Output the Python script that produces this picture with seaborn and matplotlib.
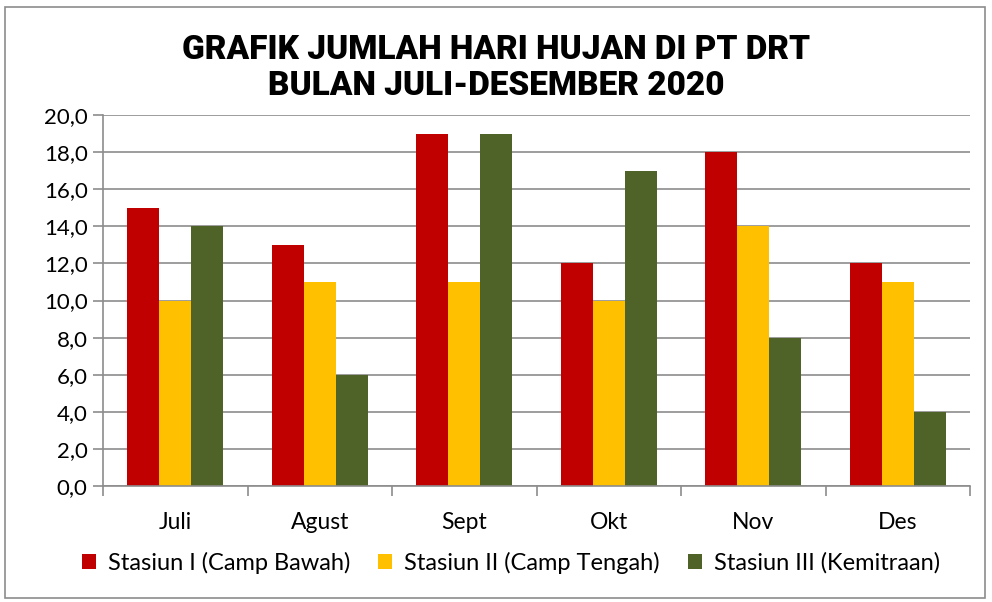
import matplotlib
matplotlib.use("Agg")
import matplotlib.pyplot as plt
import seaborn as sns
import pandas as pd
from matplotlib.patches import Rectangle
from matplotlib.ticker import FuncFormatter

months = ["Juli", "Agust", "Sept", "Okt", "Nov", "Des"]
series_names = ["Stasiun I (Camp Bawah)", "Stasiun II (Camp Tengah)", "Stasiun III (Kemitraan)"]
stasiun1 = [15, 13, 19, 12, 18, 12]
stasiun2 = [10, 11, 11, 10, 14, 11]
stasiun3 = [14, 6, 19, 17, 8, 4]
colors = ["#C00000", "#FFC000", "#4F6228"]

df = pd.DataFrame({
    "Bulan": months * 3,
    "Seri": [series_names[0]] * 6 + [series_names[1]] * 6 + [series_names[2]] * 6,
    "Hari": stasiun1 + stasiun2 + stasiun3,
})

sns.set_theme(style="white")
plt.rcParams['font.family'] = ['Lato', 'DejaVu Sans']
plt.rcParams['text.color'] = 'black'
plt.rcParams['xtick.color'] = 'black'
plt.rcParams['ytick.color'] = 'black'

fig = plt.figure(figsize=(9.92, 6.02), dpi=100)
ax = fig.add_axes([103/992, 1-486/602, (970-103)/992, (486-115)/602])

sns.barplot(data=df, x="Bulan", y="Hari", hue="Seri", palette=colors,
            ax=ax, width=0.665, saturation=1, legend=True, dodge=True, linewidth=0)

ax.set_ylim(0, 20)
ax.set_xlim(-0.5, 5.5)
ax.set_yticks([0, 2, 4, 6, 8, 10, 12, 14, 16, 18, 20])
ax.yaxis.set_major_formatter(FuncFormatter(lambda v, p: f"{v:.1f}".replace(".", ",")))
ax.yaxis.grid(True, color="#8C8C8C", linewidth=1.2)
ax.set_axisbelow(True)
ax.set_xlabel("")
ax.set_ylabel("")
for s in ["top", "right"]:
    ax.spines[s].set_visible(False)
for s in ["left", "bottom"]:
    ax.spines[s].set_color("#8C8C8C")
    ax.spines[s].set_linewidth(1.2)
ax.tick_params(axis="y", labelsize=16, length=7, color="#8C8C8C", labelcolor="black",
               width=1.2, direction="out", left=True, pad=4)
ax.tick_params(axis="x", labelsize=16.5, length=0, pad=19, labelcolor="black")
ax.set_xticks([-0.5, 0.5, 1.5, 2.5, 3.5, 4.5, 5.5], minor=True)
ax.tick_params(axis="x", which="minor", length=7, color="#8C8C8C", width=1.2, bottom=True)

handles, labels = ax.get_legend_handles_labels()
ax.legend_.remove()
fig.legend(handles, labels, loc="center", bbox_to_anchor=(511/992, 1-563/602), ncol=3,
           frameon=False, fontsize=17, handlelength=0.6, handleheight=0.6,
           handletextpad=0.5, columnspacing=1.2)

fig.text(496/992, 1-68/602, "GRAFIK JUMLAH HARI HUJAN DI PT DRT\nBULAN JULI-DESEMBER 2020",
         ha="center", va="center", fontsize=24, fontweight="heavy",
         family=["Roboto", "DejaVu Sans"], linespacing=1.15)

fig.patches.append(Rectangle((5/992, 4/602), 980/992, 591/602, transform=fig.transFigure,
                             fill=False, edgecolor="#8C8C8C", linewidth=1.2))

fig.savefig("out.png", dpi=100)
